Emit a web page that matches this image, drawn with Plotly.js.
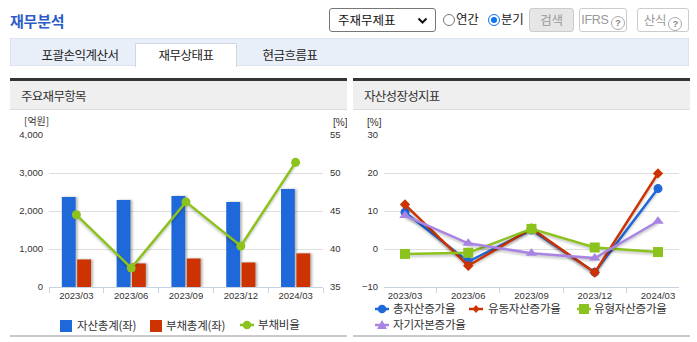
<!DOCTYPE html>
<html><head><meta charset="utf-8">
<script src="https://cdn.plot.ly/plotly-3.0.1.min.js"></script>
<style>
body{margin:0;background:#fff;width:697px;height:342px;position:relative;overflow:hidden;font-family:"Noto Sans CJK KR",sans-serif;color:#333}
.abs{position:absolute}
#title{left:10px;top:12px;font-size:15px;line-height:17px;font-weight:bold;color:#2d5cc8;letter-spacing:-0.2px}
#sel{left:329px;top:8px;width:107px;height:24px;box-sizing:border-box;border:1px solid #767676;border-radius:3px;font-size:12.5px;line-height:22px;padding-left:8px;color:#111;background:#fff}
#sel svg{position:absolute;right:7px;top:8px}
.radio{top:14px;width:12px;height:12px;box-sizing:border-box;border-radius:50%;border:1px solid #767676;background:#fff}
.radio.on{border:1px solid #0a74f0;background:#fff}
.radio.on::after{content:"";position:absolute;left:2px;top:2px;width:6px;height:6px;border-radius:50%;background:#0a74f0}
.rlab{top:11px;font-size:12.5px;line-height:16px;color:#222;letter-spacing:-0.3px}
.btn{top:8px;height:24px;box-sizing:border-box;border:1px solid #ccc;border-radius:3px;font-size:12.5px;line-height:22px;color:#999;text-align:center;background:#fff;letter-spacing:-0.3px}
.q{display:inline-block;width:14px;height:14px;box-sizing:border-box;border:1px solid #aaa;border-radius:50%;font-size:9.5px;line-height:12px;text-align:center;color:#888;vertical-align:-2px;margin-left:2px;font-family:"Liberation Sans",Arial,sans-serif;font-weight:bold}
#tabbar{left:10px;top:38px;width:679px;height:28px;box-sizing:border-box;background:#e9eff8;border:1px solid #dbe3ee}
#tabact{left:135px;top:43px;width:102px;height:24px;box-sizing:border-box;background:#fff;border:1px solid #d0d8e4;border-bottom:none}
.tab{top:47px;font-size:12.5px;line-height:16px;color:#222;letter-spacing:-0.5px;text-align:center}
.panel{top:78px;height:32px;box-sizing:border-box;border-top:3px solid #353535;background:#efefef;border-bottom:1px solid #dcdcdc}
.ptitle{font-size:12.5px;line-height:16px;color:#333;letter-spacing:-0.7px;position:absolute;left:11px;top:7px}
.pbottom{top:335px;height:2px;background:#c9c9c9}
.leg{font-size:11.5px;line-height:14px;color:#333;white-space:nowrap;letter-spacing:-0.2px}
.leg svg{position:absolute}
.bars .point path{filter:drop-shadow(2px 0px 1px rgba(0,0,0,0.28))}
.scatterlayer .js-line{filter:drop-shadow(0px 2px 1px rgba(0,0,0,0.22))}
</style></head>
<body>
<div id="title" class="abs">재무분석</div>
<div id="sel" class="abs">주재무제표<svg width="11" height="8" viewBox="0 0 11 8"><path d="M1.5 1.5 L5.5 5.5 L9.5 1.5" stroke="#111" stroke-width="2" fill="none"/></svg></div>
<div class="abs radio" style="left:443px"></div>
<div class="abs rlab" style="left:456px">연간</div>
<div class="abs radio on" style="left:488px"></div>
<div class="abs rlab" style="left:501px">분기</div>
<div class="abs btn" style="left:529px;width:45px;background:#e6e6e6;color:#999">검색</div>
<div class="abs btn" style="left:579px;width:48px;font-family:'Liberation Sans',Arial,sans-serif">IFRS<span class="q">?</span></div>
<div class="abs btn" style="left:637px;width:52px">산식<span class="q">?</span></div>

<div id="tabbar" class="abs"></div>
<div id="tabact" class="abs"></div>
<div class="abs tab" style="left:30px;width:100px">포괄손익계산서</div>
<div class="abs tab" style="left:136px;width:100px">재무상태표</div>
<div class="abs tab" style="left:240px;width:100px">현금흐름표</div>

<div class="abs panel" style="left:10px;width:337px"><div class="ptitle">주요재무항목</div></div>
<div class="abs panel" style="left:353px;width:337px"><div class="ptitle">자산성장성지표</div></div>

<div id="chart1" class="abs" style="left:10px;top:110px;width:337px;height:217px"></div>
<div id="chart2" class="abs" style="left:353px;top:110px;width:337px;height:217px"></div>
<div id="leg1"></div>
<div id="leg2"></div>

<div class="abs pbottom" style="left:10px;width:337px"></div>
<div class="abs pbottom" style="left:353px;width:337px"></div>

<script>
// ---- data ----
const categories = ['2023/03', '2023/06', '2023/09', '2023/12', '2024/03'];
const totalAssets = [2370, 2290, 2395, 2235, 2580];
const totalLiabilities = [725, 620, 750, 645, 885];
const debtRatio = [44.5, 37.5, 46.2, 40.4, 51.4];
const totalAssetGrowth = [9.7, -3.3, 5.0, -6.1, 15.9];
const currentAssetGrowth = [11.7, -4.4, 5.4, -6.2, 19.9];
const tangibleAssetGrowth = [-1.3, -1.0, 5.3, 0.4, -0.8];
const equityGrowth = [8.8, 1.5, -1.1, -2.4, 7.3];
const leftNames = ['자산총계(좌)', '부채총계(좌)', '부채비율'];
const rightNames = ['총자산증가율', '유동자산증가율', '유형자산증가율', '자기자본증가율'];

const BLUE = '#1f68d9', RED = '#cc3300', GREEN = '#8cc21e', PURPLE = '#a984e2';
const numFont = {family: '"Liberation Sans", Arial, sans-serif', size: 9.5, color: '#333'};
const axisCol = '#c6d3e2', gridCol = '#dedede';

const xaxisBase = {
  type: 'category', tickson: 'boundaries', ticks: 'outside', ticklen: 5, tickcolor: axisCol,
  showline: true, linecolor: axisCol, linewidth: 1, showgrid: false, zeroline: false,
  tickfont: numFont, fixedrange: true
};

// ---- chart 1 ----
const t1 = [
  {type: 'bar', name: leftNames[0], x: categories, y: totalAssets, marker: {color: BLUE}, hoverinfo: 'skip'},
  {type: 'bar', name: leftNames[1], x: categories, y: totalLiabilities, marker: {color: RED}, hoverinfo: 'skip'},
  {type: 'scatter', mode: 'lines+markers', name: leftNames[2], x: categories, y: debtRatio, yaxis: 'y2',
   line: {color: GREEN, width: 2.5}, marker: {color: GREEN, size: 9}, hoverinfo: 'skip'}
];
const l1 = {
  width: 337, height: 217, margin: {l: 39, r: 24, t: 25, b: 40},
  paper_bgcolor: 'rgba(0,0,0,0)', plot_bgcolor: 'rgba(0,0,0,0)', showlegend: false,
  barmode: 'group', bargap: 0.44, bargroupgap: 0.1,
  xaxis: xaxisBase,
  yaxis: {range: [0, 4000], dtick: 1000, tickformat: ',', showgrid: true, gridcolor: gridCol, gridwidth: 1,
          zeroline: false, showline: false, ticks: '', ticklabelstandoff: 5, tickfont: numFont, fixedrange: true},
  yaxis2: {overlaying: 'y', side: 'right', range: [35, 55], dtick: 5, showgrid: false, zeroline: false,
           showline: false, ticks: '', ticklabelstandoff: 6, tickfont: numFont, fixedrange: true},
  annotations: [
    {text: '[억원]', xref: 'paper', yref: 'paper', x: 0, y: 1, xanchor: 'right', yanchor: 'bottom',
     xshift: 2, yshift: 5, showarrow: false, font: {family: '"Noto Sans CJK KR"', size: 10, color: '#333'}},
    {text: '[%]', xref: 'paper', yref: 'paper', x: 1, y: 1, xanchor: 'left', yanchor: 'bottom',
     xshift: 8, yshift: 5, showarrow: false, font: {family: '"Liberation Sans", Arial', size: 10, color: '#333'}}
  ]
};
Plotly.newPlot('chart1', t1, l1, {displayModeBar: false, staticPlot: true});

// ---- chart 2 ----
const t2 = [
  {type: 'scatter', mode: 'lines+markers', name: rightNames[0], x: categories, y: totalAssetGrowth,
   line: {color: BLUE, width: 2.5}, marker: {color: BLUE, size: 9, symbol: 'circle'}, hoverinfo: 'skip'},
  {type: 'scatter', mode: 'lines+markers', name: rightNames[1], x: categories, y: currentAssetGrowth,
   line: {color: RED, width: 2.5}, marker: {color: RED, size: 8, symbol: 'diamond'}, hoverinfo: 'skip'},
  {type: 'scatter', mode: 'lines+markers', name: rightNames[2], x: categories, y: tangibleAssetGrowth,
   line: {color: GREEN, width: 2.5}, marker: {color: GREEN, size: 10, symbol: 'square'}, hoverinfo: 'skip'},
  {type: 'scatter', mode: 'lines+markers', name: rightNames[3], x: categories, y: equityGrowth,
   line: {color: PURPLE, width: 2.5}, marker: {color: PURPLE, size: 10, symbol: 'triangle-up'}, hoverinfo: 'skip'}
];
const l2 = {
  width: 337, height: 217, margin: {l: 31, r: 11, t: 25, b: 40},
  paper_bgcolor: 'rgba(0,0,0,0)', plot_bgcolor: 'rgba(0,0,0,0)', showlegend: false,
  xaxis: xaxisBase,
  yaxis: {range: [-10, 30], dtick: 10, showgrid: true, gridcolor: gridCol, gridwidth: 1,
          zeroline: false, showline: false, ticks: '', ticklabelstandoff: 5, tickfont: numFont, fixedrange: true},
  annotations: [
    {text: '[%]', xref: 'paper', yref: 'paper', x: 0, y: 1, xanchor: 'right', yanchor: 'bottom',
     xshift: 0, yshift: 5, showarrow: false, font: {family: '"Liberation Sans", Arial', size: 10, color: '#333'}}
  ]
};
Plotly.newPlot('chart2', t2, l2, {displayModeBar: false, staticPlot: true});

// ---- HTML legends (names/colours from the trace definitions) ----
function sym(kind, color) {
  const line = '<line x1="0" y1="7" x2="14" y2="7" stroke="' + color + '" stroke-width="2.5"/>';
  if (kind === 'square') return '<svg width="12" height="12" style="top:1px"><rect x="0" y="0" width="12" height="12" fill="' + color + '"/></svg>';
  let m = '';
  if (kind === 'circle') m = '<circle cx="7" cy="7" r="4.3" fill="' + color + '"/>';
  if (kind === 'diamond') m = '<path d="M7 3 L10.5 7 L7 11 L3.5 7 Z" fill="' + color + '"/>';
  if (kind === 'bigsquare') m = '<rect x="2" y="2" width="10" height="10" fill="' + color + '"/>';
  if (kind === 'triangle') m = '<path d="M7 2 L12 11 L2 11 Z" fill="' + color + '"/>';
  return '<svg width="14" height="14" style="top:0px">' + line + m + '</svg>';
}
function item(parent, x, y, kind, color, text, textX) {
  const d = document.createElement('div');
  d.className = 'abs leg';
  d.style.left = x + 'px'; d.style.top = y + 'px';
  d.innerHTML = sym(kind, color) + '<span style="position:absolute;left:' + textX + 'px;top:-1px">' + text + '</span>';
  document.getElementById(parent).appendChild(d);
}
item('leg1', 60, 319, 'square', BLUE, t1[0].name, 17);
item('leg1', 150, 319, 'square', RED, t1[1].name, 16);
item('leg1', 240, 318, 'circle', GREEN, t1[2].name, 18);
item('leg2', 375, 302, 'circle', BLUE, t2[0].name, 18);
item('leg2', 469, 302, 'diamond', RED, t2[1].name, 19);
item('leg2', 577, 302, 'bigsquare', GREEN, t2[2].name, 17);
item('leg2', 375, 318, 'triangle', PURPLE, t2[3].name, 18);
</script>
</body></html>
